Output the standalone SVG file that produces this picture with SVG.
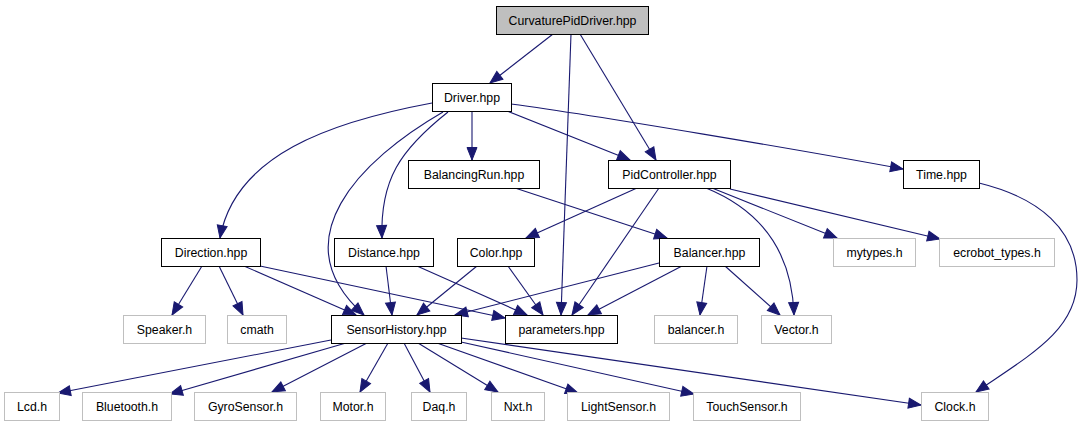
<svg xmlns="http://www.w3.org/2000/svg" width="1081" height="427" viewBox="0 0 1081 427">
<style>
.n rect{fill:#ffffff;stroke:#000000;stroke-width:1}
.n.g rect{stroke:#bfbfbf}
.n.root rect{fill:#bfbfbf}
.n text{font-family:"Liberation Sans",Arial,sans-serif;font-size:12.3px;fill:#000000;text-anchor:middle}
#edges path{fill:none;stroke:#191970;stroke-width:1.1;marker-end:url(#arr)}
</style>
<defs>
<marker id="arr" markerUnits="userSpaceOnUse" markerWidth="14" markerHeight="12" refX="12.5" refY="5.5" orient="auto" overflow="visible">
<path d="M0,0.5 L12.5,5.5 L0,10.5 Z" fill="#191970" stroke="#191970" stroke-width="1"/>
</marker>
</defs>
<rect width="1081" height="427" fill="#ffffff"/>
<g id="edges">
<path d="M553,34 L490,83"/>
<path d="M571,34 L561,315"/>
<path d="M580,34 L656,160"/>
<path d="M472,111 L472,160"/>
<path d="M507,111 L630,160"/>
<path d="M511,104 C600,116 800,150 903,169"/>
<path d="M432,103 C330,122 235,155 220,238"/>
<path d="M443,112 C360,160 280,240 364,315"/>
<path d="M448,112 C400,150 380,180 382,238"/>
<path d="M515,188 L667,238"/>
<path d="M637,188 L526,238"/>
<path d="M659,188 L572,315"/>
<path d="M706,188 C760,210 792,250 794,315"/>
<path d="M712,188 L837,238"/>
<path d="M730,189 L940,239"/>
<path d="M979,183 C1040,198 1077,230 1077,280 C1077,330 1030,355 976,392"/>
<path d="M202,266 L172,315"/>
<path d="M219,266 L243,315"/>
<path d="M244,266 L356,315"/>
<path d="M260,266 L505,318"/>
<path d="M386,266 L392,315"/>
<path d="M417,266 L527,315"/>
<path d="M477,266 L417,315"/>
<path d="M508,266 L543,315"/>
<path d="M659,263 L455,315"/>
<path d="M682,266 L588,315"/>
<path d="M707,266 L700,315"/>
<path d="M725,266 L780,315"/>
<path d="M331,340 L58,393"/>
<path d="M346,343 L170,394"/>
<path d="M367,343 L272,392"/>
<path d="M388,343 L360,392"/>
<path d="M404,343 L430,392"/>
<path d="M418,343 L498,392"/>
<path d="M437,343 L578,393"/>
<path d="M461,342 L694,394"/>
<path d="M461,338 L921,405"/>
</g>
<g id="CurvaturePidDriver" class="n root"><rect x="496.5" y="6.5" width="152" height="28"/><text x="572.5" y="24.5">CurvaturePidDriver.hpp</text></g>
<g id="Driver" class="n"><rect x="432.5" y="83.5" width="79" height="28"/><text x="472" y="101.5">Driver.hpp</text></g>
<g id="BalancingRun" class="n"><rect x="408.5" y="160.5" width="131" height="28"/><text x="474" y="178.5">BalancingRun.hpp</text></g>
<g id="PidController" class="n"><rect x="608.5" y="160.5" width="122" height="28"/><text x="669.5" y="178.5">PidController.hpp</text></g>
<g id="Time" class="n"><rect x="903.5" y="160.5" width="76" height="28"/><text x="941.5" y="178.5">Time.hpp</text></g>
<g id="Direction" class="n"><rect x="161.5" y="238.5" width="99" height="28"/><text x="211" y="256.5">Direction.hpp</text></g>
<g id="Distance" class="n"><rect x="334.5" y="238.5" width="99" height="28"/><text x="384" y="256.5">Distance.hpp</text></g>
<g id="Color" class="n"><rect x="457.5" y="238.5" width="77" height="28"/><text x="496" y="256.5">Color.hpp</text></g>
<g id="Balancer" class="n"><rect x="659.5" y="238.5" width="100" height="28"/><text x="709.5" y="256.5">Balancer.hpp</text></g>
<g id="mytypes" class="n g"><rect x="833.5" y="238.5" width="82" height="28"/><text x="874.5" y="256.5">mytypes.h</text></g>
<g id="ecrobot_types" class="n g"><rect x="939.5" y="238.5" width="115" height="28"/><text x="997" y="256.5">ecrobot_types.h</text></g>
<g id="Speaker" class="n g"><rect x="123.5" y="315.5" width="82" height="28"/><text x="164.5" y="333.5">Speaker.h</text></g>
<g id="cmath" class="n g"><rect x="227.5" y="315.5" width="59" height="28"/><text x="257" y="333.5">cmath</text></g>
<g id="SensorHistory" class="n"><rect x="331.5" y="315.5" width="130" height="28"/><text x="396.5" y="333.5">SensorHistory.hpp</text></g>
<g id="parameters" class="n"><rect x="505.5" y="315.5" width="112" height="28"/><text x="561.5" y="333.5">parameters.hpp</text></g>
<g id="balancer_h" class="n g"><rect x="654.5" y="315.5" width="83" height="28"/><text x="696" y="333.5">balancer.h</text></g>
<g id="Vector" class="n g"><rect x="761.5" y="315.5" width="70" height="28"/><text x="796.5" y="333.5">Vector.h</text></g>
<g id="Lcd" class="n g"><rect x="4.5" y="392.5" width="55" height="28"/><text x="32" y="410.5">Lcd.h</text></g>
<g id="Bluetooth" class="n g"><rect x="82.5" y="392.5" width="89" height="28"/><text x="127" y="410.5">Bluetooth.h</text></g>
<g id="GyroSensor" class="n g"><rect x="194.5" y="392.5" width="102" height="28"/><text x="245.5" y="410.5">GyroSensor.h</text></g>
<g id="Motor" class="n g"><rect x="320.5" y="392.5" width="65" height="28"/><text x="353" y="410.5">Motor.h</text></g>
<g id="Daq" class="n g"><rect x="411.5" y="392.5" width="55" height="28"/><text x="439" y="410.5">Daq.h</text></g>
<g id="Nxt" class="n g"><rect x="491.5" y="392.5" width="53" height="28"/><text x="518" y="410.5">Nxt.h</text></g>
<g id="LightSensor" class="n g"><rect x="567.5" y="392.5" width="102" height="28"/><text x="618.5" y="410.5">LightSensor.h</text></g>
<g id="TouchSensor" class="n g"><rect x="693.5" y="392.5" width="107" height="28"/><text x="747" y="410.5">TouchSensor.h</text></g>
<g id="Clock" class="n g"><rect x="921.5" y="392.5" width="67" height="28"/><text x="955" y="410.5">Clock.h</text></g>
</svg>
